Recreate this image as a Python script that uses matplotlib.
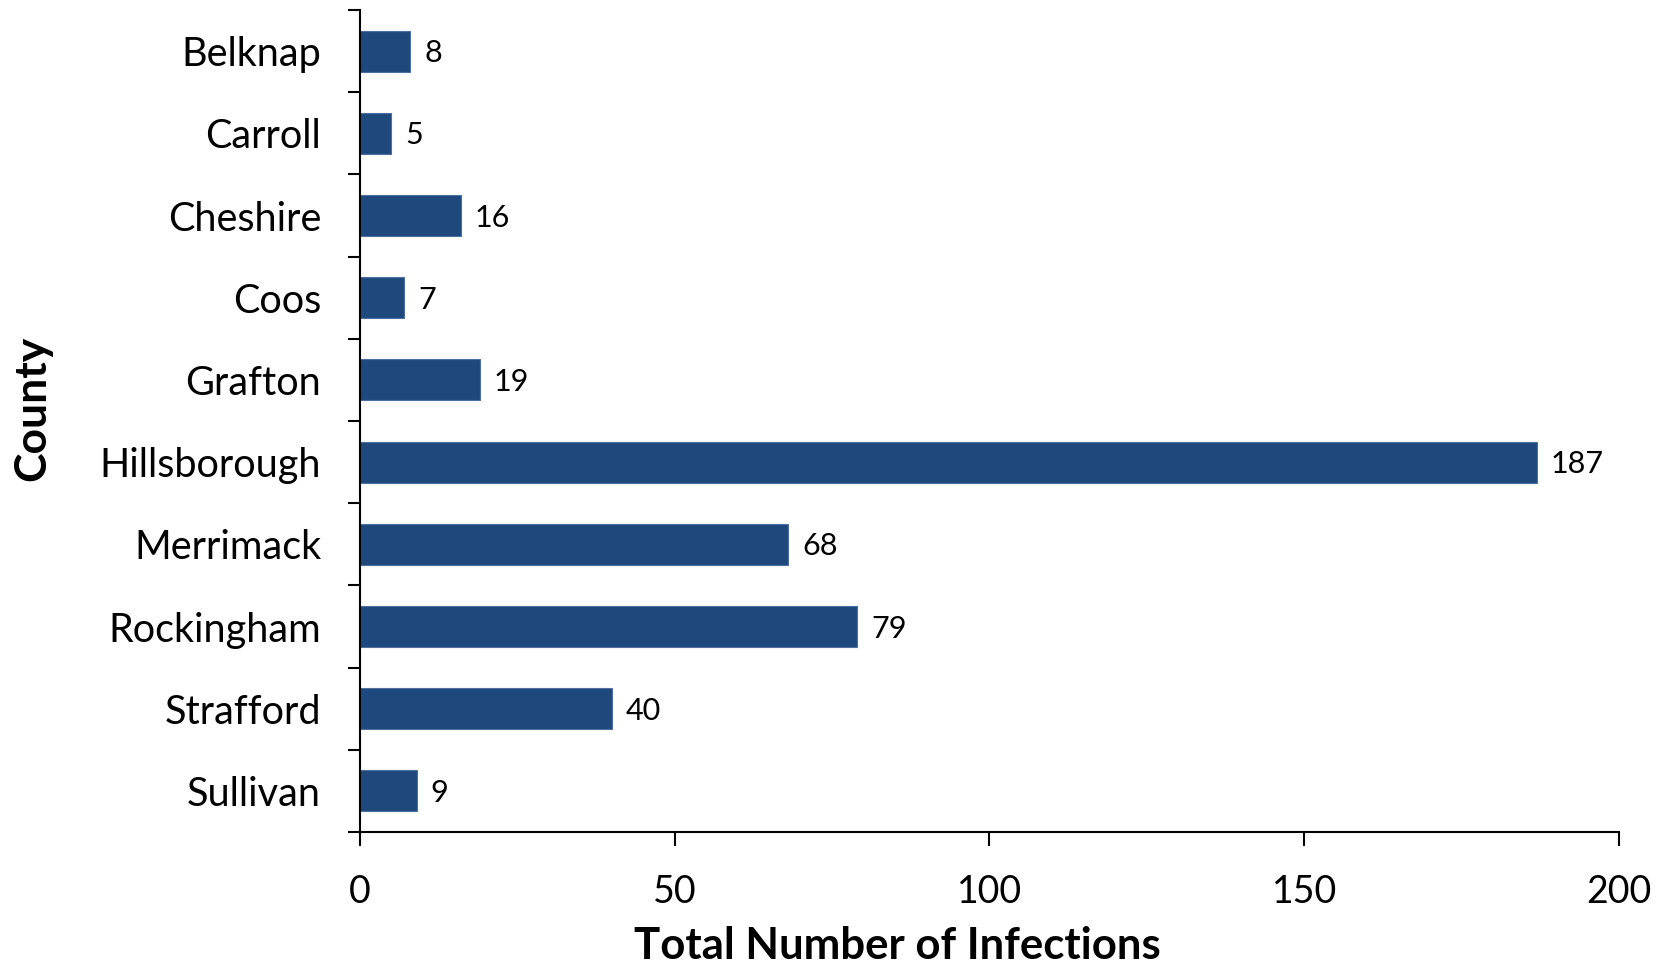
import matplotlib
matplotlib.use("Agg")
import matplotlib.pyplot as plt
import numpy as np

counties = ["Belknap", "Carroll", "Cheshire", "Coos", "Grafton",
            "Hillsborough", "Merrimack", "Rockingham", "Strafford", "Sullivan"]
infections = [8, 5, 16, 7, 19, 187, 68, 79, 40, 9]
x_ticks = [0, 50, 100, 150, 200]

plt.rcParams['font.family'] = ['Lato', 'DejaVu Sans']

fig = plt.figure(figsize=(16.61, 9.74), dpi=100)
ax = fig.add_axes([0.2167, 0.1458, 0.9747 - 0.2167, 0.9897 - 0.1458])

y = np.arange(len(counties))
ax.barh(y, infections, height=0.5, color="#1F497D", edgecolor="#4F6F9F", linewidth=0.8)

for yi, v in zip(y, infections):
    ax.annotate(str(v), xy=(v, yi), xytext=(10, -1.5), textcoords="offset points",
                va="center", ha="left", fontsize=22)

ax.set_xlim(0, 200)
ax.set_ylim(len(counties) - 0.5, -0.5)
ax.set_xticks(x_ticks)
ax.set_xticklabels([str(t) for t in x_ticks], fontsize=27)
ax.set_yticks(y)
ax.set_yticklabels(counties, fontsize=28.5)
ax.set_yticks(np.arange(len(counties) + 1) - 0.5, minor=True)
ax.tick_params(axis='y', which='major', length=0, pad=28)
ax.tick_params(axis='y', which='minor', length=9, width=1.5, direction='out')
ax.tick_params(axis='x', which='major', length=10, width=1.5, direction='out', pad=20)

for s in ['top', 'right']:
    ax.spines[s].set_visible(False)
for s in ['left', 'bottom']:
    ax.spines[s].set_linewidth(1.5)

fig.text(0.540, 0.008, "Total Number of Infections", fontsize=31.5, fontweight='bold',
         ha='center', va='bottom')
fig.text(0.0195, 0.581, "County", fontsize=32, fontweight='bold',
         ha='center', va='center', rotation=90)

fig.savefig("out.png", dpi=100)
